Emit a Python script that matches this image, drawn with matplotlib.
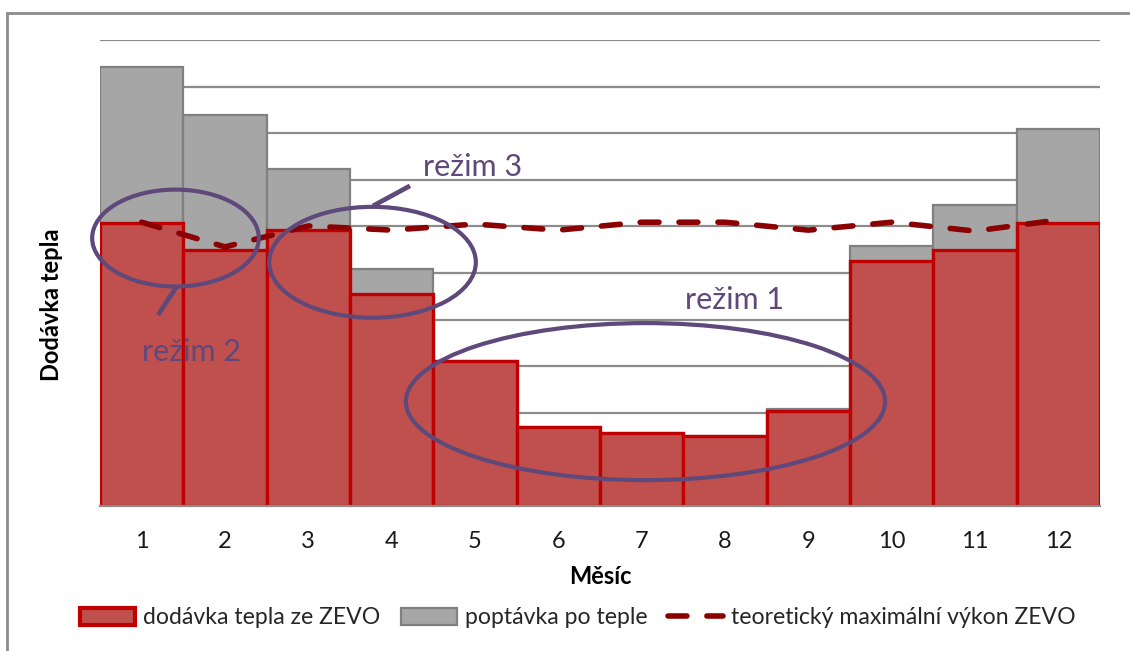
"""
Dodávka tepla ze ZEVO vs. poptávka po teple (měsíční průběh).
"""

import numpy as np
import matplotlib.pyplot as plt
from matplotlib.patches import Ellipse, Rectangle, Patch
from matplotlib.lines import Line2D

plt.rcParams['font.family'] = ['Lato', 'DejaVu Sans']

### Data ###
months = np.arange(1, 13)
demand = [9.42, 8.39, 7.23, 5.09, 3.11, 1.70, 1.57, 1.50, 2.08, 5.58, 6.46, 8.09]   # poptávka po teple
supply = [6.07, 5.49, 5.92, 4.55, 3.11, 1.70, 1.57, 1.50, 2.04, 5.26, 5.49, 6.07]   # dodávka tepla ze ZEVO
max_output = [6.09, 5.56, 6.01, 5.92, 6.05, 5.92, 6.09, 6.09, 5.92, 6.09, 5.90, 6.14]  # teoretický max. výkon

# colours
red_fill = '#C0504D'
red_edge = '#C00000'
gray_fill = '#A6A6A6'
gray_edge = '#808080'
dash_col = '#8B0000'
purple = '#5F497A'

W, H = 1130, 651
fig = plt.figure(figsize=(W / 100, H / 100), dpi=100)

# chart frame (only left and top edges visible in the picture)
fig.patches.append(Rectangle((7 / W, -0.1), 1.2, (H - 13) / H + 0.1, transform=fig.transFigure,
                             facecolor='none', edgecolor='#8C8C8C', lw=2, zorder=0))

ax = fig.add_axes([100 / W, (H - 506) / H, 1000 / W, 466 / H])

ax.set_xlim(0.5, 12.5)
ax.set_ylim(0, 10)

# gridlines
for g in range(1, 11):
    ax.axhline(g, color='#8C8C8C', lw=1.6, zorder=0)

ax.bar(months, demand, width=1.0, color=gray_fill, edgecolor=gray_edge, lw=1.6, zorder=2)
ax.bar(months, supply, width=1.0, color=red_fill, edgecolor=red_edge, lw=2.4, zorder=3)

ax.plot(months, max_output, color=dash_col, lw=4, dashes=(3.4, 3.6), dash_capstyle='round', zorder=5)

### Annotations (režimy) ###
ell_kw = dict(facecolor='none', edgecolor=purple, lw=3, zorder=6, clip_on=False)
ax.add_patch(Ellipse((1.406, 5.75), 2.0, 2.08, **ell_kw))
ax.add_patch(Ellipse((3.77, 5.23), 2.48, 2.38, **ell_kw))
ax.add_patch(Ellipse((7.046, 2.24), 5.75, 3.37, **ell_kw))
ax.plot([1.196, 1.424], [4.10, 4.72], color=purple, lw=3.4, zorder=6, solid_capstyle='butt')
ax.plot([3.776, 4.22], [6.44, 6.87], color=purple, lw=3.4, zorder=6, solid_capstyle='butt')

txt_kw = dict(color=purple, fontsize=22, ha='center', va='center', zorder=7)
ax.text(1.604, 3.30, 'režim 2', **txt_kw)
ax.text(4.976, 7.27, 'režim 3', **txt_kw)
ax.text(8.11, 4.42, 'režim 1', **txt_kw)

### Axes formatting ###
for s in ['top', 'right', 'left']:
    ax.spines[s].set_visible(False)
ax.spines['bottom'].set_color('#8C8C8C')
ax.spines['bottom'].set_linewidth(1.6)
ax.spines['bottom'].set_zorder(4)
ax.set_yticks([])
ax.set_xticks(months)
ax.tick_params(axis='x', length=0, pad=18, labelsize=17, colors='#1a1a1a')

fig.text(52 / W, 1 - 305 / H, 'Dodávka tepla', rotation=90, ha='center', va='center',
         fontsize=17, fontweight='bold')
fig.text(600 / W, 1 - 577 / H, 'Měsíc', ha='center', va='center', fontsize=17, fontweight='bold')

handles = [Patch(facecolor=red_fill, edgecolor=red_edge, lw=3),
           Patch(facecolor=gray_fill, edgecolor=gray_edge, lw=1.6),
           Line2D([], [], color=dash_col, lw=4, dashes=(3.4, 3.6), dash_capstyle='round')]
labels = ['dodávka tepla ze ZEVO', 'poptávka po teple', 'teoretický maximální výkon ZEVO']
fig.legend(handles, labels, loc='center', bbox_to_anchor=(578 / W, 1 - 618 / H), ncol=3,
           frameon=False, fontsize=16.6, handlelength=2.4, handleheight=0.7,
           columnspacing=0.9, handletextpad=0.35, labelcolor='#262626')

plt.savefig('out.png', dpi=100)
